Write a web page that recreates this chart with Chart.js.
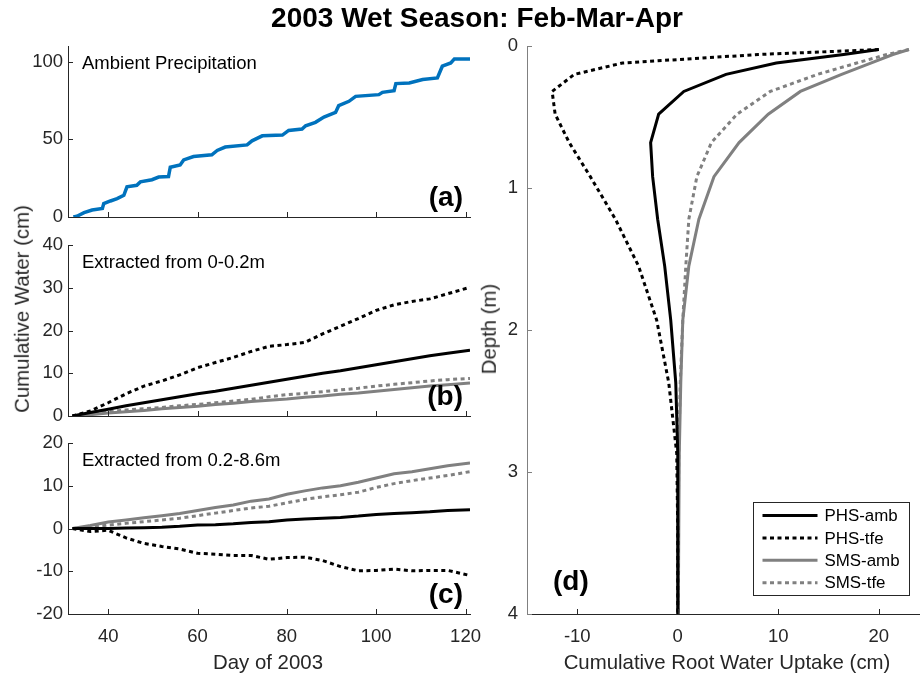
<!DOCTYPE html>
<html>
<head>
<meta charset="utf-8">
<title>2003 Wet Season: Feb-Mar-Apr</title>
<script src="https://cdn.jsdelivr.net/npm/chart.js@4.4.1/dist/chart.umd.min.js"></script>
<style>
  body { margin: 0; background: #fff; }
  #figure { position: relative; width: 920px; height: 677px; overflow: hidden; background: #fff;
            font-family: 'Liberation Sans', Arial, sans-serif; color: #262626; }
  #figure canvas { position: absolute; }
  .lbl { position: absolute; white-space: nowrap; font-size: 20.4px; line-height: 1;
         transform: translate(-50%, -50%); }
  .lbl.vert { transform: translate(-50%, -50%) rotate(-90deg); }
  #title { font-size: 28px; font-weight: bold; color: #000; }
</style>
</head>
<body>
<div id="figure">
  <canvas id="precip" width="484" height="193" style="left:0;top:30px"></canvas>
  <canvas id="shallow" width="484" height="193" style="left:0;top:229px"></canvas>
  <canvas id="deep" width="484" height="250" style="left:0;top:427px"></canvas>
  <canvas id="profile" width="440" height="647" style="left:480px;top:30px"></canvas>

  <div class="lbl" id="title" style="left:477px;top:18px">2003 Wet Season: Feb-Mar-Apr</div>
  <div class="lbl vert" style="left:22px;top:309px">Cumulative Water (cm)</div>
  <div class="lbl" style="left:268px;top:662px">Day of 2003</div>
  <div class="lbl vert" style="left:489px;top:329px">Depth (m)</div>
  <div class="lbl" style="left:727px;top:662px">Cumulative Root Water Uptake (cm)</div>
</div>

<script>
// ambient rainfall, cumulative (cm)
var precipDays   = [32.2, 33, 34.6, 36.4, 38.7, 39, 40.5, 42, 43.5, 44.2, 46.4, 47.2, 49.8, 51.3, 53.5, 53.9,
                    56.1, 56.9, 59.1, 63.2, 64.4, 66.2, 71.1, 72.2, 74.5, 79, 80.4, 83.4, 84.2, 86.4, 88.3,
                    90.9, 91.6, 93.9, 95.4, 100.6, 101.4, 104, 104.4, 107.4, 110.4, 113.7, 114.8, 116.7, 117.5, 121];
var precipTotals = [0, 0.5, 2.8, 4.5, 5.5, 8.6, 10.3, 11.8, 14, 19.4, 20.4, 22.6, 24, 25.7, 26, 32,
                    33.5, 36.7, 38.9, 40, 42.8, 45, 46.4, 49, 52.2, 52.7, 55.7, 56.6, 58.7, 60.9, 64.3,
                    67.3, 71.6, 74.4, 77.6, 78.7, 80.2, 81.3, 85.8, 86.2, 88.4, 89.5, 97, 99.1, 101.7, 101.7];

// extraction, cumulative (cm)
var days = [32, 36, 40, 44, 48, 52, 56, 60, 64, 68, 72, 76, 80, 84, 88, 92, 96, 100, 104, 108, 112, 116, 121];

var shallowPhsAmb = [0, 0.8, 1.6, 2.4, 3.1, 3.8, 4.5, 5.2, 5.8, 6.5, 7.2, 7.9, 8.6, 9.3, 10.0, 10.6, 11.3, 12.0, 12.7, 13.4, 14.1, 14.7, 15.4];
var shallowPhsTfe = [0, 1.2, 3.1, 5.2, 7.0, 8.2, 9.6, 11.3, 12.5, 13.7, 15.1, 16.3, 16.7, 17.2, 19.2, 21.0, 22.8, 24.7, 26.0, 26.8, 27.4, 28.6, 30.1];
var shallowSmsAmb = [0, 0.3, 0.7, 1.0, 1.3, 1.7, 2.0, 2.3, 2.7, 3.0, 3.4, 3.7, 4.0, 4.4, 4.7, 5.1, 5.4, 5.8, 6.2, 6.6, 7.0, 7.3, 7.7];
var shallowSmsTfe = [0, 0.6, 1.0, 1.4, 1.7, 2.0, 2.4, 2.7, 3.1, 3.5, 3.9, 4.5, 5.0, 5.3, 5.7, 6.1, 6.5, 7.0, 7.4, 7.8, 8.2, 8.5, 8.8];

var deepPhsAmb = [0, 0, 0, 0.1, 0.2, 0.3, 0.5, 0.8, 0.9, 1.1, 1.4, 1.6, 2.0, 2.2, 2.4, 2.6, 2.9, 3.3, 3.5, 3.7, 3.9, 4.2, 4.4];
var deepPhsTfe = [0, -0.7, -0.4, -2.2, -3.5, -4.2, -4.8, -5.8, -6.0, -6.3, -6.3, -7.2, -6.8, -6.7, -7.5, -8.9, -9.9, -9.8, -9.5, -9.9, -9.8, -9.8, -11.0];
var deepSmsAmb = [0, 0.7, 1.5, 2.0, 2.5, 3.0, 3.5, 4.2, 4.9, 5.5, 6.4, 6.9, 8.0, 8.8, 9.5, 10.0, 10.8, 11.8, 12.8, 13.3, 14.0, 14.7, 15.3];
var deepSmsTfe = [0, 0.4, 0.8, 1.2, 1.6, 2.0, 2.4, 3.0, 3.6, 4.2, 4.8, 5.2, 6.0, 6.8, 7.4, 7.9, 8.5, 9.6, 10.5, 11.2, 11.8, 12.4, 13.3];

// root water uptake by depth (cm)
var depths      = [0.025, 0.06, 0.12, 0.2, 0.32, 0.48, 0.68, 0.92, 1.22, 1.55, 1.93, 2.37, 2.87, 3.43, 4.0];
var uptakePhsAmb = [20.0, 16.5, 9.8, 4.8, 0.6, -1.9, -2.7, -2.5, -2.0, -1.3, -0.7, -0.2, 0, 0, 0];
var uptakePhsTfe = [20.0, 8.0, -5.5, -10.3, -12.5, -12.2, -10.8, -8.7, -6.2, -3.9, -2.1, -0.9, -0.1, 0, 0];
var uptakeSmsAmb = [23.0, 21.4, 19.2, 16.3, 12.2, 9.0, 6.1, 3.6, 2.1, 1.1, 0.5, 0.3, 0.15, 0.1, 0.05];
var uptakeSmsTfe = [23.0, 20.8, 17.8, 13.9, 9.2, 5.9, 3.35, 1.9, 1.1, 0.8, 0.5, 0.25, 0.1, 0.05, 0.05];

var dayTicks     = [40, 60, 80, 100, 120];
var precipTicks  = [0, 50, 100];
var shallowTicks = [0, 10, 20, 30, 40];
var deepTicks    = [-20, -10, 0, 10, 20];
var depthTicks   = [0, 1, 2, 3, 4];
var uptakeTicks  = [-10, 0, 10, 20];

var INK = '#262626', GREY = '#808080', BLUE = '#0072BD';
var DOTS = [4, 3.5];

Chart.defaults.font.family = "'Liberation Sans', Arial, sans-serif";
Chart.defaults.color = INK;

function pairs(xs, ys) {
  return xs.map(function(x, i) { return {x: x, y: ys[i]}; });
}

function series(label, points, color, dotted, width) {
  return {
    label: label, data: points, borderColor: color, borderWidth: width || 3,
    borderDash: dotted ? DOTS : [], borderCapStyle: 'butt',
    pointRadius: 0, tension: 0, fill: false
  };
}

function useTicks(list) {
  return function(scale) { scale.ticks = list.map(function(v) { return {value: v}; }); };
}

function fixWidth(w) {
  return function(scale) { scale.width = w; scale.paddingTop = 0; scale.paddingBottom = 0; };
}

function fixHeight(h) {
  return function(scale) { scale.height = h; scale.paddingLeft = 0; scale.paddingRight = 0; };
}

// inward tick marks, the panel note, the bold panel tag and the boxed legend
var panelExtras = {
  id: 'panelExtras',
  afterDraw: function(chart, args, opts) {
    var ctx = chart.ctx, area = chart.chartArea;
    ctx.save();
    ctx.lineWidth = 1;
    Object.keys(chart.scales).forEach(function(key) {
      var scale = chart.scales[key];
      ctx.strokeStyle = scale.options.border.color;
      scale.ticks.forEach(function(t) {
        var p = Math.round(scale.getPixelForValue(t.value)) + 0.5;
        ctx.beginPath();
        if (scale.isHorizontal()) {
          ctx.moveTo(p, area.bottom); ctx.lineTo(p, area.bottom - 5);
        } else {
          ctx.moveTo(area.left, p); ctx.lineTo(area.left + 5, p);
        }
        ctx.stroke();
      });
    });

    ctx.textBaseline = 'middle';
    if (opts.note) {
      ctx.fillStyle = '#000';
      ctx.font = "18.5px 'Liberation Sans', Arial, sans-serif";
      ctx.textAlign = 'left';
      ctx.fillText(opts.note, area.left + 14, area.top + 18);
    }
    if (opts.tag) {
      ctx.fillStyle = '#000';
      ctx.font = "bold 28px 'Liberation Sans', Arial, sans-serif";
      if (opts.tagLeft) {
        ctx.textAlign = 'left';
        ctx.fillText(opts.tag, area.left + 26, area.bottom - 32);
      } else {
        ctx.textAlign = 'right';
        ctx.fillText(opts.tag, area.right - 7, area.bottom - 19);
      }
    }
    if (opts.legend) {
      var bx = area.right - 166.5, by = 502 - chart.canvas.offsetTop + 0.5, bw = 156, bh = 93;
      ctx.fillStyle = '#fff';
      ctx.fillRect(bx, by, bw, bh);
      ctx.strokeStyle = INK;
      ctx.strokeRect(bx, by, bw, bh);
      ctx.font = "16.9px 'Liberation Sans', Arial, sans-serif";
      ctx.textAlign = 'left';
      chart.data.datasets.forEach(function(ds, i) {
        var y = by + 13 + i * 22.4;
        ctx.strokeStyle = ds.borderColor;
        ctx.lineWidth = ds.borderWidth;
        ctx.setLineDash(ds.borderDash);
        ctx.beginPath();
        ctx.moveTo(bx + 9, y); ctx.lineTo(bx + 64, y);
        ctx.stroke();
        ctx.setLineDash([]);
        ctx.fillStyle = '#000';
        ctx.fillText(ds.label, bx + 71, y + 1);
      });
    }
    ctx.restore();
  }
};

function dayPanel(id, datasets, yMin, yMax, yTicks, showDays, note, tag) {
  return new Chart(document.getElementById(id), {
    type: 'line',
    data: {datasets: datasets},
    plugins: [panelExtras],
    options: {
      responsive: false, animation: false, events: [],
      layout: {padding: {top: 16, right: 14, bottom: 0, left: 0}},
      plugins: {
        legend: {display: false}, tooltip: {enabled: false},
        panelExtras: {note: note, tag: tag}
      },
      scales: {
        x: {
          type: 'linear', min: 31, max: 121,
          grid: {display: false, drawTicks: false}, border: {color: INK, width: 1},
          ticks: {display: showDays, color: INK, font: {size: 18.5}, padding: 12, maxRotation: 0, autoSkip: false},
          afterBuildTicks: useTicks(dayTicks),
          afterFit: fixHeight(showDays ? 63 : 6)
        },
        y: {
          type: 'linear', min: yMin, max: yMax,
          grid: {display: false, drawTicks: false}, border: {color: INK, width: 1},
          ticks: {color: INK, font: {size: 18.5}, padding: 5},
          afterBuildTicks: useTicks(yTicks),
          afterFit: fixWidth(68)
        }
      }
    }
  });
}

dayPanel('precip', [
  series('Ambient', pairs(precipDays, precipTotals), BLUE, false, 3.5)
], 0, 110, precipTicks, false, 'Ambient Precipitation', '(a)');

dayPanel('shallow', [
  series('PHS-amb', pairs(days, shallowPhsAmb), '#000', false),
  series('PHS-tfe', pairs(days, shallowPhsTfe), '#000', true),
  series('SMS-amb', pairs(days, shallowSmsAmb), GREY, false),
  series('SMS-tfe', pairs(days, shallowSmsTfe), GREY, true)
], 0, 40, shallowTicks, false, 'Extracted from 0-0.2m', '(b)');

dayPanel('deep', [
  series('PHS-amb', pairs(days, deepPhsAmb), '#000', false),
  series('PHS-tfe', pairs(days, deepPhsTfe), '#000', true),
  series('SMS-amb', pairs(days, deepSmsAmb), GREY, false),
  series('SMS-tfe', pairs(days, deepSmsTfe), GREY, true)
], -20, 20, deepTicks, true, 'Extracted from 0.2-8.6m', '(c)');

new Chart(document.getElementById('profile'), {
  type: 'line',
  data: {datasets: [
    series('PHS-amb', pairs(uptakePhsAmb, depths), '#000', false),
    series('PHS-tfe', pairs(uptakePhsTfe, depths), '#000', true),
    series('SMS-amb', pairs(uptakeSmsAmb, depths), GREY, false),
    series('SMS-tfe', pairs(uptakeSmsTfe, depths), GREY, true)
  ]},
  plugins: [panelExtras],
  options: {
    responsive: false, animation: false, events: [],
    layout: {padding: {top: 16, right: 0, bottom: 0, left: 0}},
    plugins: {
      legend: {display: false}, tooltip: {enabled: false},
      panelExtras: {tag: '(d)', tagLeft: true, legend: true}
    },
    scales: {
      x: {
        type: 'linear', min: -15, max: 24.1,
        grid: {display: false, drawTicks: false}, border: {color: INK, width: 1},
        ticks: {color: INK, font: {size: 18.5}, padding: 12, maxRotation: 0, autoSkip: false},
        afterBuildTicks: useTicks(uptakeTicks),
        afterFit: fixHeight(63)
      },
      y: {
        type: 'linear', min: 0, max: 4, reverse: true,
        grid: {display: false, drawTicks: false}, border: {color: GREY, width: 1},
        ticks: {color: INK, font: {size: 18.5}, padding: 9},
        afterBuildTicks: useTicks(depthTicks),
        afterFit: fixWidth(47)
      }
    }
  }
});
</script>
</body>
</html>
